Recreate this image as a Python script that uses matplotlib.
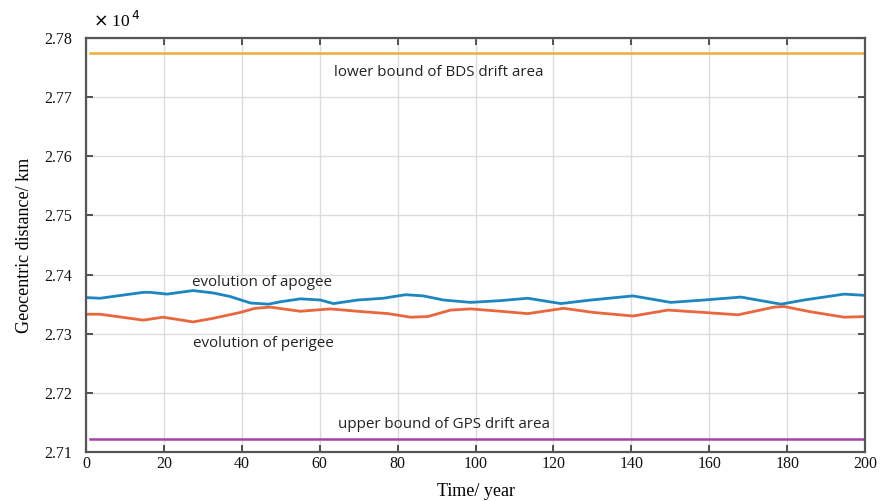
import matplotlib
matplotlib.use("Agg")
import matplotlib.pyplot as plt

# orbit evolution over 200 years (geocentric distance in units of 1e4 km)
apogee_years = [0.5, 3.6, 14.7, 16.5, 20.8, 27.5, 32.6, 37.0, 42.2, 46.8, 49.9,
                55.0, 60.2, 63.5, 69.7, 76.3, 82.0, 86.6, 91.8, 98.7, 106.4,
                113.4, 121.9, 129.6, 140.4, 150.1, 158.6, 168.1, 178.4, 184.3,
                194.6, 199.7]
apogee = [2.7361, 2.7360, 2.7370, 2.7370, 2.7367, 2.7373, 2.7369, 2.7363,
          2.7352, 2.7350, 2.7354, 2.7359, 2.7357, 2.7351, 2.7357, 2.7360,
          2.7366, 2.7364, 2.7357, 2.7353, 2.7356, 2.7360, 2.7351, 2.7357,
          2.7364, 2.7353, 2.7357, 2.7362, 2.7350, 2.7357, 2.7367, 2.7365]

perigee_years = [0.5, 3.6, 14.7, 19.8, 27.5, 32.6, 39.6, 43.4, 47.3, 55.0,
                 62.7, 69.7, 77.6, 83.3, 87.7, 93.6, 98.7, 106.4, 113.4, 122.6,
                 130.3, 140.4, 149.4, 158.6, 167.4, 176.6, 179.2, 186.1, 194.6,
                 199.7]
perigee = [2.7333, 2.7333, 2.7323, 2.7328, 2.7320, 2.7326, 2.7336, 2.7343,
           2.7345, 2.7338, 2.7342, 2.7338, 2.7334, 2.7328, 2.7329, 2.7340,
           2.7342, 2.7338, 2.7334, 2.7343, 2.7336, 2.7330, 2.7340, 2.7336,
           2.7332, 2.7345, 2.7346, 2.7337, 2.7328, 2.7329]

bound_years = [1, 200]
bds_lower = 2.7775
gps_upper = 2.7122

serif = "Liberation Serif"
sans = "Open Sans"

fig = plt.figure(figsize=(8.81, 5.01), dpi=100)
ax = fig.add_axes([0.0976, 0.0978, 0.8844, 0.8262])

ax.plot(bound_years, [bds_lower, bds_lower], color="#efae3a", lw=1.8)
ax.plot(bound_years, [gps_upper, gps_upper], color="#a8429f", lw=1.8)
ax.plot(apogee_years, apogee, color="#1b86bf", lw=2.0)
ax.plot(perigee_years, perigee, color="#e8673c", lw=2.0)

ax.text(90.5, 2.7741, "lower bound of BDS drift area", fontsize=10.9,
        family=sans, color="#222222", ha="center", va="center")
ax.text(27.2, 2.7386, "evolution of apogee", fontsize=10.9,
        family=sans, color="#222222", ha="left", va="center")
ax.text(27.4, 2.7284, "evolution of perigee", fontsize=10.9,
        family=sans, color="#222222", ha="left", va="center")
ax.text(91.8, 2.7146, "upper bound of GPS drift area", fontsize=10.9,
        family=sans, color="#222222", ha="center", va="center")

ax.set_xlim(0, 200)
ax.set_ylim(2.71, 2.78)
ax.set_xticks(range(0, 201, 20))
ax.set_yticks([2.71, 2.72, 2.73, 2.74, 2.75, 2.76, 2.77, 2.78])
ax.set_yticklabels(["2.71", "2.72", "2.73", "2.74", "2.75", "2.76", "2.77", "2.78"])
ax.grid(True, color="#dcdcdc", lw=1.0)
ax.set_axisbelow(True)

ax.tick_params(direction="in", length=5, width=1.3, color="#444444",
               top=True, right=True, labelsize=11.5, pad=4)
for lab in ax.get_xticklabels() + ax.get_yticklabels():
    lab.set_family(serif)
    lab.set_color("#111111")
ax.tick_params(axis="y", pad=10)
ax.tick_params(axis="x", pad=3)

for side in ["left", "bottom", "top", "right"]:
    ax.spines[side].set_color("#555555")
    ax.spines[side].set_linewidth(1.6)

ax.set_xlabel("Time/ year", family=serif, fontsize=13, labelpad=8)
ax.set_ylabel("Geocentric distance/ km", family=serif, fontsize=13, labelpad=8)
fig.text(0.105, 0.958, r"$\times$ 10$^{\,4}$", family=serif, fontsize=12.5,
         ha="left", va="center")

fig.savefig("out.png", dpi=100)
